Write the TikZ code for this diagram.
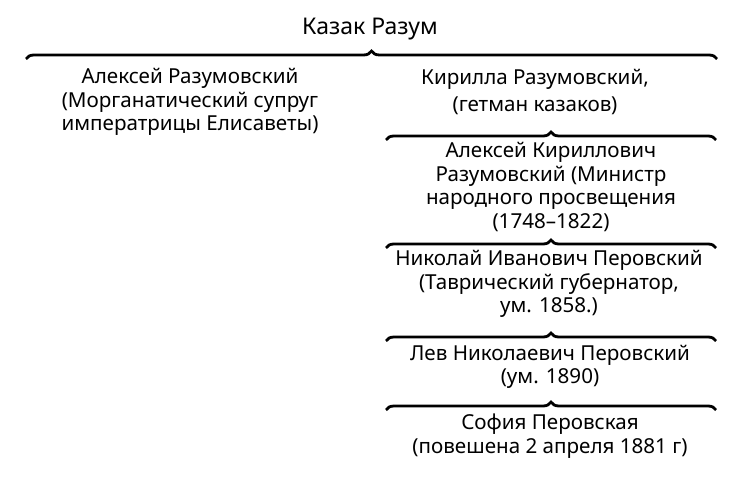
\documentclass[tikz,border=0pt]{standalone}
\usepackage{fontspec}
\setmainfont{Noto Sans}
\usetikzlibrary{decorations.pathreplacing}
\begin{document}
\begin{tikzpicture}[x=1pt,y=-1pt,
  txt/.style={align=center,font=\fontsize{20.6}{23.6}\selectfont,inner sep=0pt},
  title/.style={align=center,font=\fontsize{23}{28}\selectfont,inner sep=0pt},
  brc/.style={draw,line width=2.8pt,decorate,decoration={brace,amplitude=8pt}}]
\useasboundingbox (0,0) rectangle (736,481);
\node[title] (root) at (370,29) {Казак Разум};
\node[txt] (alex) at (190,102) {Алексей Разумовский\\(Морганатический супруг\\императрицы Елисаветы)};
\node[txt] (kir) at (535,92) {Кирилла Разумовский,\\[4pt](гетман казаков)};
\node[txt] (ak) at (551,187) {Алексей Кириллович\\Разумовский (Министр\\народного просвещения\\(1748–1822)};
\node[txt] (nip) at (549,284) {Николай Иванович Перовский\\(Таврический губернатор,\\ум. 1858.)};
\node[txt] (lnp) at (550,367) {Лев Николаевич Перовский\\(ум. 1890)};
\node[txt] (sp) at (550,436) {София Перовская\\(повешена 2 апреля 1881 г)};
\coordinate (b1l) at (26,59); \coordinate (b1r) at (717,59);
\coordinate (b2l) at (386,140); \coordinate (b2r) at (716,140);
\coordinate (b3l) at (386,248); \coordinate (b3r) at (716,248);
\coordinate (b4l) at (386,341); \coordinate (b4r) at (716,341);
\coordinate (b5l) at (386,410); \coordinate (b5r) at (716,410);
\draw[brc] (b1l) -- (b1r);
\draw[brc] (b2l) -- (b2r);
\draw[brc] (b3l) -- (b3r);
\draw[brc] (b4l) -- (b4r);
\draw[brc] (b5l) -- (b5r);
\end{tikzpicture}
\end{document}
